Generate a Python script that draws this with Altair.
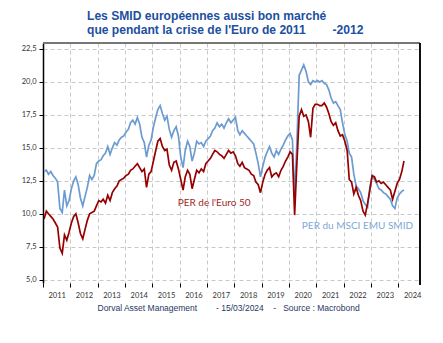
import altair as alt
import pandas as pd

# Monthly readings (mid-month), Jan 2011 .. Mar 2024
smid = [
    # 2011
    13.2, 13.3, 13.0, 13.2, 12.9, 12.7, 12.4, 10.4, 10.1, 11.8, 10.6, 11.0,
    # 2012
    11.9, 12.5, 12.8, 12.2, 11.2, 10.6, 11.3, 12.0, 12.9, 12.6, 12.9, 13.8,
    # 2013
    14.0, 14.1, 14.4, 14.6, 15.1, 14.5, 15.0, 15.4, 15.2, 15.6, 15.8, 15.9,
    # 2014
    16.2, 16.4, 16.9, 17.1, 16.8, 17.3, 16.8, 15.8, 15.4, 14.3, 15.2, 15.6,
    # 2015
    16.6, 17.3, 17.9, 18.2, 17.6, 17.1, 17.4, 16.4, 15.8, 16.3, 16.6, 15.9,
    # 2016
    14.3, 13.5, 14.8, 15.5, 15.1, 14.0, 14.6, 15.5, 15.3, 15.4, 15.1, 15.5,
    # 2017
    15.7, 15.9, 16.3, 16.5, 16.9, 16.6, 16.8, 16.5, 16.9, 17.2, 16.9, 17.1,
    # 2018
    17.3, 16.3, 16.0, 16.3, 16.1, 15.9, 15.7, 15.5, 15.3, 14.6, 13.8, 12.8,
    # 2019
    13.6, 14.3, 14.7, 15.1, 14.6, 14.3, 14.8, 14.5, 14.9, 15.2, 15.6, 15.9,
    # 2020
    16.1, 15.6, 11.3, 15.5, 20.5, 20.9, 21.3, 20.8, 20.0, 19.8, 20.1, 20.0,
    # 2021
    20.1, 20.0, 20.1, 19.9, 19.8, 19.4, 18.8, 18.4, 18.5, 18.2, 17.9, 16.9,
    # 2022
    16.0, 15.5, 14.6, 14.3, 13.0, 12.1, 11.9, 11.6, 11.0, 10.7, 10.5, 12.0,
    # 2023
    12.9, 12.6, 12.3, 11.9, 11.8, 11.6, 11.5, 11.3, 11.1, 10.6, 10.4, 11.2,
    # 2024
    11.5, 11.7, 11.8,
]

euro50 = [
    # 2011
    9.6, 10.2, 10.0, 9.8, 9.6, 9.3, 9.0, 7.4, 7.0, 8.4, 8.0, 8.6,
    # 2012
    9.3, 9.8, 10.0, 9.3, 8.5, 8.1, 8.8, 9.5, 10.0, 10.1, 10.2, 10.6,
    # 2013
    11.0, 10.9, 11.1, 10.8, 11.4, 11.0, 11.6, 11.9, 12.1, 12.5, 12.6, 12.7,
    # 2014
    12.9, 13.0, 13.3, 13.4, 13.6, 13.8, 13.5, 13.2, 13.4, 12.0, 13.0, 13.2,
    # 2015
    14.0, 14.8, 15.5, 15.7, 15.1, 14.8, 14.9, 13.7, 13.3, 13.9, 14.0, 13.4,
    # 2016
    12.6, 11.8, 12.8, 13.3, 13.0, 11.9, 12.6, 13.3, 13.1, 13.4, 13.2, 13.8,
    # 2017
    14.0, 14.2, 14.5, 14.8, 14.7, 14.5, 14.4, 14.2, 14.5, 14.8, 14.6, 14.7,
    # 2018
    14.4, 13.8, 13.6, 13.9, 13.5, 13.4, 13.3, 13.0, 12.9, 12.4, 12.2, 11.6,
    # 2019
    12.4, 13.0, 13.3, 13.5, 12.8, 13.0, 13.1, 12.8, 13.3, 13.6, 14.0, 14.3,
    # 2020
    14.7, 14.5, 9.9, 13.9, 17.4, 17.9, 17.4, 17.5, 17.0, 15.8, 18.0, 18.3,
    # 2021
    18.3, 18.2, 18.2, 18.4, 18.1, 17.6, 17.0, 16.7, 16.9, 16.3, 15.9, 16.0,
    # 2022
    15.5, 14.8, 12.6, 12.4, 11.5, 12.0, 11.4, 11.0, 10.2, 9.9, 10.8, 11.8,
    # 2023
    12.9, 12.8, 12.4, 12.5, 12.3, 12.4, 12.2, 12.0, 11.8, 11.1, 11.7, 12.3,
    # 2024
    12.6, 13.2, 14.0,
]

series_names = ["PER du MSCI EMU SMID", "PER de l'Euro 50"]
series_colors = ["#6b9bd0", "#960000"]

label_texts = ["PER de l'Euro 50", "PER du MSCI EMU SMID"]
label_dates = ["2015-12-05", "2020-06-20"]
label_values = [10.78, 9.04]
label_colors = ["#a0282a", "#7ea7d6"]

y_ticks = [5.0, 7.5, 10.0, 12.5, 15.0, 17.5, 20.0, 22.5]

dates = [f"{y}-{m:02d}-15" for y in range(2011, 2025) for m in range(1, 13)][: len(smid)]

df = pd.concat([
    pd.DataFrame({"date": dates, "value": smid, "series": series_names[0]}),
    pd.DataFrame({"date": dates, "value": euro50, "series": series_names[1]}),
])
labels_df = pd.DataFrame({"date": label_dates, "value": label_values,
                          "text": label_texts, "color": label_colors})

W, H = 377, 240
AXIS_FONT = "Lato"

x_scale = alt.Scale(domain=["2011-01-01", "2024-10-15"])
y_scale = alt.Scale(domain=[4.75, 22.95], nice=False, zero=False)

x_enc = alt.X(
    "date:T", scale=x_scale,
    axis=alt.Axis(
        format="%Y", tickCount={"interval": "year", "step": 1},
        labelOffset=13.7, labelAlign="center", labelFont=AXIS_FONT,
        labelFontSize=7.5, labelColor="#333333", labelPadding=4,
        ticks=True, tickColor="#000000", tickSize=4, tickWidth=1,
        domain=False, grid=True, gridColor="#c8c8c8", gridDash=[4, 3],
        gridWidth=1,
        title="Dorval Asset Management" + "\u00a0" * 8 + "- 15/03/2024" + "\u00a0" * 4
              + "-" + "\u00a0" * 3 + "Source : Macrobond",
        titleFont="Liberation Sans", titleFontSize=8.5, titleFontWeight="normal",
        titleColor="#1f3864", titleAnchor="start", titleAlign="left",
        titleX=54, titleY=27, titleBaseline="alphabetic",
    ),
)
y_enc = alt.Y(
    "value:Q", scale=y_scale,
    axis=alt.Axis(
        values=y_ticks, labelExpr="replace(format(datum.value, '.1f'), '.', ',')",
        labelOverlap=False,
        labelFont=AXIS_FONT, labelFontSize=7.5, labelColor="#333333",
        labelPadding=3, tickColor="#000000", tickSize=4, tickWidth=1,
        domain=True, domainColor="#000000", domainWidth=1.5,
        grid=True, gridColor="#c8c8c8", gridDash=[4, 3], gridWidth=1,
        title=None,
    ),
)

lines = alt.Chart(df).mark_line(strokeWidth=1.7, interpolate="linear").encode(
    x=x_enc, y=y_enc,
    color=alt.Color("series:N", scale=alt.Scale(domain=series_names, range=series_colors), legend=None),
)

labels = alt.Chart(labels_df).mark_text(align="left", baseline="middle", font="Lato",
                                        fontSize=10).encode(
    x=x_enc,
    y=y_enc,
    text="text:N",
    color=alt.Color("color:N", scale=None),
)

top_border = alt.Chart(labels_df).mark_rule(color="#777777", strokeWidth=2).encode(
    x=alt.value(0), x2=alt.value(W), y=alt.value(0))
right_border = alt.Chart(labels_df).mark_rule(color="#000000", strokeWidth=1.5).encode(
    x=alt.value(W), y=alt.value(0), y2=alt.value(H + 2))

title_l1 = "Les SMID européennes aussi bon marché"
title_l2 = "que pendant la crise de l'Euro de 2011" + "\u00a0" * 8 + "-2012"

chart = alt.layer(lines, labels, top_border, right_border).properties(
    width=W, height=H,
    autosize=alt.AutoSizeParams(type="none"),
    padding={"left": 43, "top": 43, "right": 23, "bottom": 60},
    title=alt.TitleParams(
        text=[title_l1, title_l2], anchor="start", dx=44, offset=6,
        font="Liberation Sans", fontSize=12.1, fontWeight="bold",
        color="#1d4fa0", lineHeight=14, frame="group",
    ),
    background="white",
).configure_view(stroke=None)

chart.save("out.html", embed_options={"renderer": "svg", "actions": False})
